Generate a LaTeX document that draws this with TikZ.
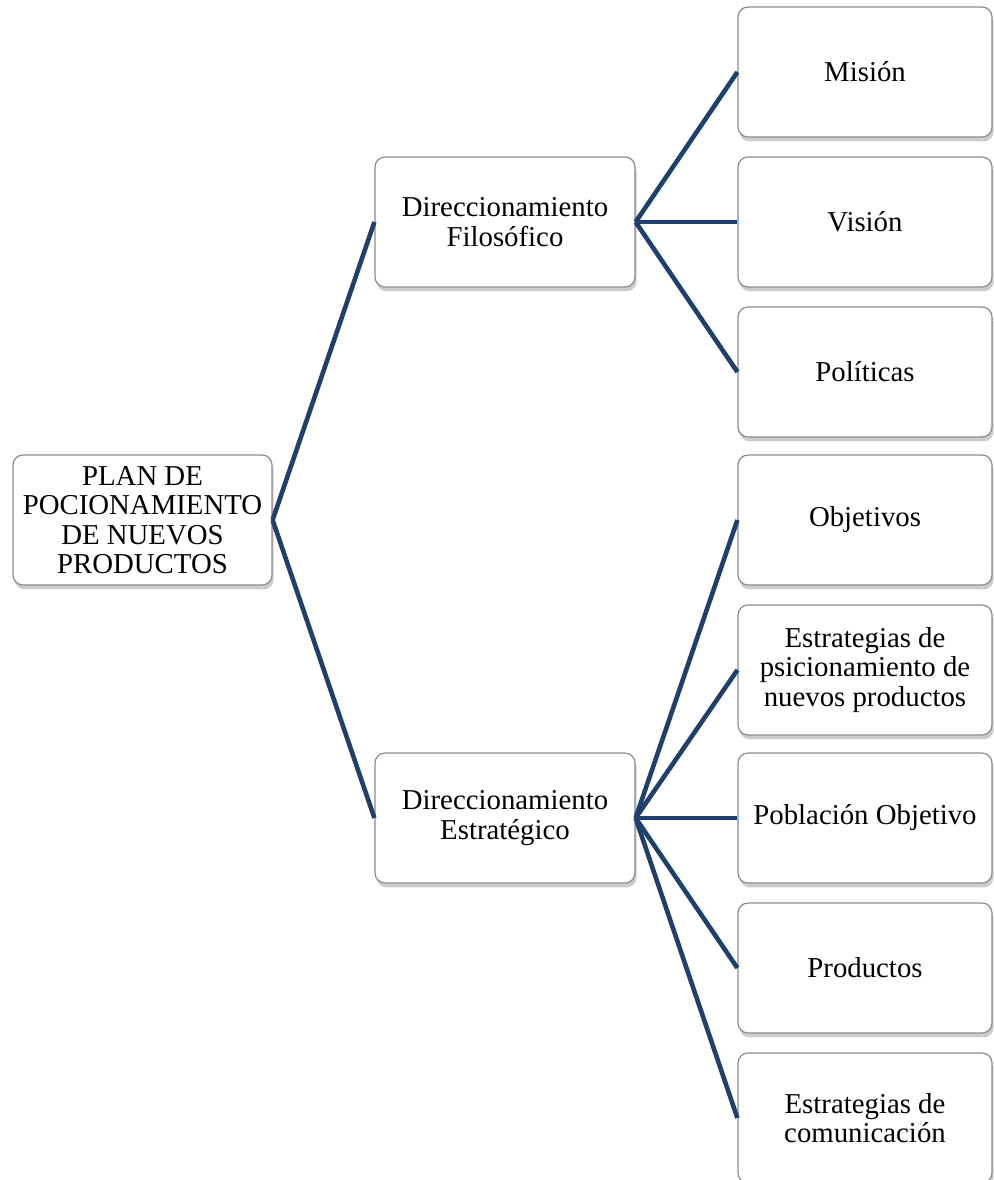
\documentclass[tikz,border=0pt]{standalone}
\usepackage{fontspec}
\setmainfont{Liberation Serif}
\usetikzlibrary{shadows}
\definecolor{linkblue}{HTML}{1F3F6E}
\definecolor{boxborder}{HTML}{8C8C8C}
\begin{document}
\begin{tikzpicture}[x=0.5pt,y=-0.5pt,
  box/.style={draw=boxborder, line width=0.6pt, fill=white, rounded corners=5pt,
    align=center, inner sep=0pt, font=\fontsize{14.4}{14.7}\selectfont,
    drop shadow={opacity=0.4, shadow xshift=0.8pt, shadow yshift=-2.2pt}},
  rootbox/.style={box, minimum width=129.5pt, minimum height=65pt},
  midbox/.style={box, minimum width=130pt, minimum height=65pt},
  leafbox/.style={box, minimum width=127pt, minimum height=65pt},
  link/.style={draw=linkblue, line width=2.3pt}]
\useasboundingbox (0,0) rectangle (993,1180);
\node[rootbox] (root) at (142.5,520) {PLAN DE\\POCIONAMIENTO\\DE NUEVOS\\PRODUCTOS};
\node[midbox] (f) at (505,222) {Direccionamiento\\Filosófico};
\node[midbox] (e) at (505,818) {Direccionamiento\\Estratégico};
\node[leafbox] (m1) at (865,72) {Misión};
\node[leafbox] (m2) at (865,222) {Visión};
\node[leafbox] (m3) at (865,372) {Políticas};
\node[leafbox] (s1) at (865,520) {Objetivos};
\node[leafbox] (s2) at (865,670) {Estrategias de\\psicionamiento de\\nuevos productos};
\node[leafbox] (s3) at (865,818) {Población Objetivo};
\node[leafbox] (s4) at (865,968) {Productos};
\node[leafbox] (s5) at (865,1118) {Estrategias de\\comunicación};
\draw[link] (root.east) -- (f.west);
\draw[link] (root.east) -- (e.west);
\foreach \n in {m1,m2,m3} \draw[link] (f.east) -- (\n.west);
\foreach \n in {s1,s2,s3,s4,s5} \draw[link] (e.east) -- (\n.west);
\end{tikzpicture}
\end{document}
